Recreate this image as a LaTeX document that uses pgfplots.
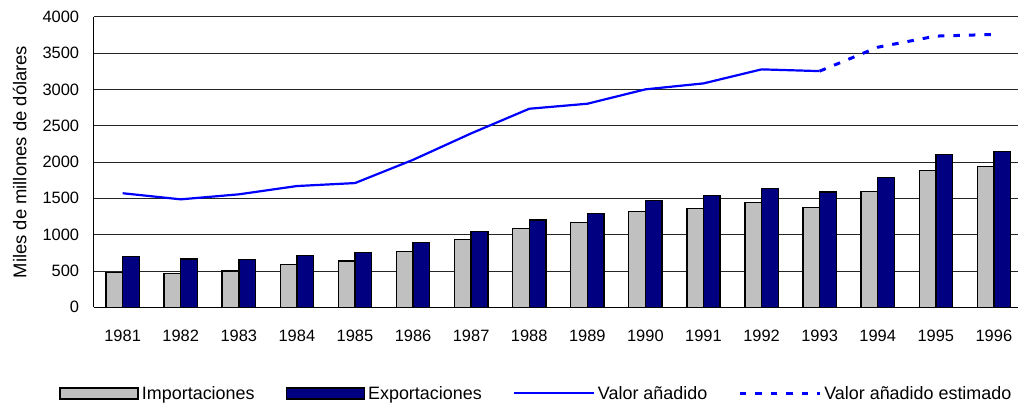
\documentclass[border=0pt]{standalone}
\usepackage{fontspec}
\setmainfont{Liberation Sans}
\usepackage{pgfplots}
\pgfplotsset{compat=1.18}
\definecolor{impgray}{RGB}{192,192,192}
\definecolor{expnavy}{RGB}{0,0,128}
\definecolor{lineblue}{RGB}{0,0,255}
\pgfplotsset{
  barlegend/.style={legend image code/.code={\draw[##1, line width=1.5bp] (0bp,-5.5bp) rectangle (78bp,5.5bp);}},
  linelegend/.style={legend image code/.code={\draw[##1] (0bp,0bp) -- (80bp,0bp);}},
}
\begin{document}
\begin{tikzpicture}
\useasboundingbox (-93.6bp,-99.7bp) rectangle (924.4bp,307.3bp);
\begin{axis}[
  scale only axis, width=929.4bp, height=290.6bp,
  xmin=1980.5, xmax=1996.5, ymin=0, ymax=4000,
  ytick={0,500,...,4000},
  xtick={1981,...,1996},
  minor x tick num=1,
  scaled y ticks=false,
  /pgf/number format/1000 sep={},
  /pgf/number format/assume math mode=true,
  tick label style={font=\fontsize{16.5}{18}\selectfont},
  xticklabel style={yshift=-19bp},
  yticklabel style={xshift=-11bp},
  tick align=inside,
  major tick length=0pt,
  minor tick length=5bp,
  minor tick style={draw=black, line width=0.8bp},
  axis x line*=bottom, axis y line*=left,
  axis line style={black, line width=1.4bp},
  ymajorgrids, major grid style={black!85, line width=0.9bp},
  ylabel={Miles de millones de dólares},
  ylabel style={at={(axis description cs:-0.0796,0.5)}, anchor=center, font=\fontsize{18.5}{20}\selectfont},
  legend style={at={(0.477,-0.296)}, anchor=center, draw=none, fill=none,
    legend columns=4, font=\fontsize{18}{20}\selectfont,
    /tikz/every even column/.append style={column sep=28bp},
    nodes={inner xsep=3bp}},
  legend cell align=left,
]
\addplot[ybar, bar width=16.65bp, bar shift=-8.33bp, fill=impgray, draw=black, line width=1.4bp, barlegend]
coordinates {(1981,482) (1982,468) (1983,500) (1984,586) (1985,637) (1986,770) (1987,930) (1988,1087)
 (1989,1164) (1990,1316) (1991,1357) (1992,1445) (1993,1376) (1994,1596) (1995,1885) (1996,1940)};
\addlegendentry{Importaciones}
\addplot[ybar, bar width=16.65bp, bar shift=8.33bp, fill=expnavy, draw=black, line width=1.4bp, barlegend]
coordinates {(1981,697) (1982,665) (1983,655) (1984,715) (1985,752) (1986,894) (1987,1046) (1988,1201)
 (1989,1288) (1990,1472) (1991,1536) (1992,1637) (1993,1587) (1994,1789) (1995,2105) (1996,2141)};
\addlegendentry{Exportaciones}
\addplot[sharp plot, lineblue, line width=2.2bp, mark=none, linelegend]
coordinates {(1981,1570) (1982,1486) (1983,1555) (1984,1669) (1985,1710) (1986,2030) (1987,2394)
 (1988,2733) (1989,2802) (1990,3000) (1991,3082) (1992,3275) (1993,3251)};
\addlegendentry{Valor añadido}
\addplot[sharp plot, lineblue, line width=3bp, mark=none, dash pattern=on 6.5bp off 9bp, linelegend]
coordinates {(1993,3251) (1994,3580) (1995,3733) (1996,3756)};
\addlegendentry{Valor añadido estimado}
\end{axis}
\end{tikzpicture}
\end{document}
